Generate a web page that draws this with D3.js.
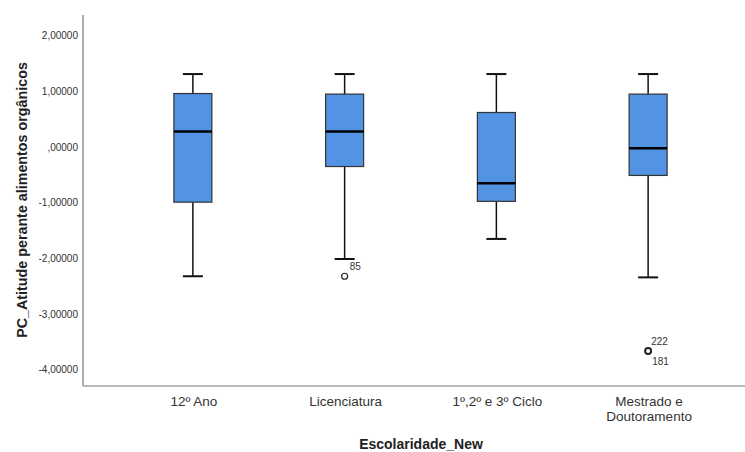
<!DOCTYPE html>
<html>
<head>
<meta charset="utf-8">
<script src="https://cdn.jsdelivr.net/npm/d3@7"></script>
<style>
  body { margin: 0; background: #fff; }
  svg { display: block; font-family: "Liberation Sans", Arial, sans-serif; }
</style>
</head>
<body>
<svg id="chart" width="745" height="452"></svg>
<script>
const categories = ["12º Ano", "Licenciatura", "1º,2º e 3º Ciclo", "Mestrado e\nDoutoramento"];
const whiskerLow  = [-2.32, -2.01, -1.65, -2.34];
const q1          = [-0.99, -0.35, -0.975, -0.51];
const medians     = [0.28, 0.28, -0.65, -0.02];
const q3          = [0.96, 0.95, 0.62, 0.95];
const whiskerHigh = [1.31, 1.31, 1.31, 1.31];
const outliers = [
  { cat: 1, value: -2.32, labels: ["85"] },
  { cat: 3, value: -3.66, labels: ["222", "181"] }
];
const yTicks = [2, 1, 0, -1, -2, -3, -4];
const yTickLabels = ["2,00000", "1,00000", ",00000", "-1,00000", "-2,00000", "-3,00000", "-4,00000"];
const yTitle = "PC_Atitude perante alimentos orgânicos";
const xTitle = "Escolaridade_New";

const svg = d3.select("#chart");
const mLeft = 83, mRight = 745, mTop = 15, mBottom = 386;

const y = d3.scaleLinear().domain([-4.29, 2.37]).range([mBottom, mTop]);
const x = d3.scaleBand().domain(categories.map((d, i) => i)).range([117, 724]);
const cx = i => x(i) + x.bandwidth() / 2;
const boxW = 38, capW = 20;

// axes
svg.append("line").attr("x1", mLeft).attr("x2", mLeft).attr("y1", mTop).attr("y2", mBottom)
  .attr("stroke", "#777").attr("stroke-width", 1.2);
svg.append("line").attr("x1", mLeft).attr("x2", mRight).attr("y1", mBottom).attr("y2", mBottom)
  .attr("stroke", "#777").attr("stroke-width", 1.2);

svg.append("g").selectAll("text").data(yTicks).join("text")
  .attr("x", 78).attr("y", d => y(d)).attr("dy", "0.35em")
  .attr("text-anchor", "end").attr("font-size", 10).attr("fill", "#333")
  .text((d, i) => yTickLabels[i]);

// x labels
const xl = svg.append("g").selectAll("text").data(categories).join("text")
  .attr("x", (d, i) => cx(i) + 1).attr("y", 406)
  .attr("text-anchor", "middle").attr("font-size", 13.5).attr("fill", "#333");
xl.each(function(d) {
  const lines = d.split("\n");
  const t = d3.select(this);
  lines.forEach((l, k) => t.append("tspan").attr("x", t.attr("x")).attr("dy", k === 0 ? 0 : 15).text(l));
});

// titles
svg.append("text").attr("x", 421).attr("y", 449)
  .attr("text-anchor", "middle").attr("font-size", 14).attr("font-weight", "bold").attr("fill", "#222")
  .text(xTitle);
svg.append("text").attr("transform", `translate(27,200) rotate(-90)`)
  .attr("text-anchor", "middle").attr("font-size", 14.3).attr("font-weight", "bold").attr("fill", "#222")
  .text(yTitle);

// boxes
const g = svg.append("g");
categories.forEach((c, i) => {
  const xc = cx(i);
  g.append("line").attr("x1", xc).attr("x2", xc).attr("y1", y(whiskerHigh[i])).attr("y2", y(q3[i]))
    .attr("stroke", "#111").attr("stroke-width", 1.5);
  g.append("line").attr("x1", xc).attr("x2", xc).attr("y1", y(q1[i])).attr("y2", y(whiskerLow[i]))
    .attr("stroke", "#111").attr("stroke-width", 1.5);
  g.append("line").attr("x1", xc - capW / 2).attr("x2", xc + capW / 2).attr("y1", y(whiskerHigh[i])).attr("y2", y(whiskerHigh[i]))
    .attr("stroke", "#111").attr("stroke-width", 2);
  g.append("line").attr("x1", xc - capW / 2).attr("x2", xc + capW / 2).attr("y1", y(whiskerLow[i])).attr("y2", y(whiskerLow[i]))
    .attr("stroke", "#111").attr("stroke-width", 2);
  g.append("rect").attr("x", xc - boxW / 2).attr("width", boxW)
    .attr("y", y(q3[i])).attr("height", y(q1[i]) - y(q3[i]))
    .attr("fill", "#5393e3").attr("stroke", "#333").attr("stroke-width", 1.2);
  g.append("line").attr("x1", xc - boxW / 2).attr("x2", xc + boxW / 2).attr("y1", y(medians[i])).attr("y2", y(medians[i]))
    .attr("stroke", "#000").attr("stroke-width", 2.5);
});

// outliers
outliers.forEach(o => {
  const xc = cx(o.cat), yc = y(o.value);
  g.append("circle").attr("cx", xc).attr("cy", yc).attr("r", 3)
    .attr("fill", "#fff").attr("stroke", "#222").attr("stroke-width", o.labels.length > 1 ? 2 : 1.2);
  if (o.labels.length === 1) {
    g.append("text").attr("x", xc + 5).attr("y", yc - 6).attr("font-size", 10).attr("fill", "#333").text(o.labels[0]);
  } else {
    g.append("text").attr("x", xc + 3).attr("y", yc - 6).attr("font-size", 10).attr("fill", "#333").text(o.labels[0]);
    g.append("text").attr("x", xc + 4).attr("y", yc + 14).attr("font-size", 10).attr("fill", "#333").text(o.labels[1]);
  }
});
</script>
</body>
</html>
